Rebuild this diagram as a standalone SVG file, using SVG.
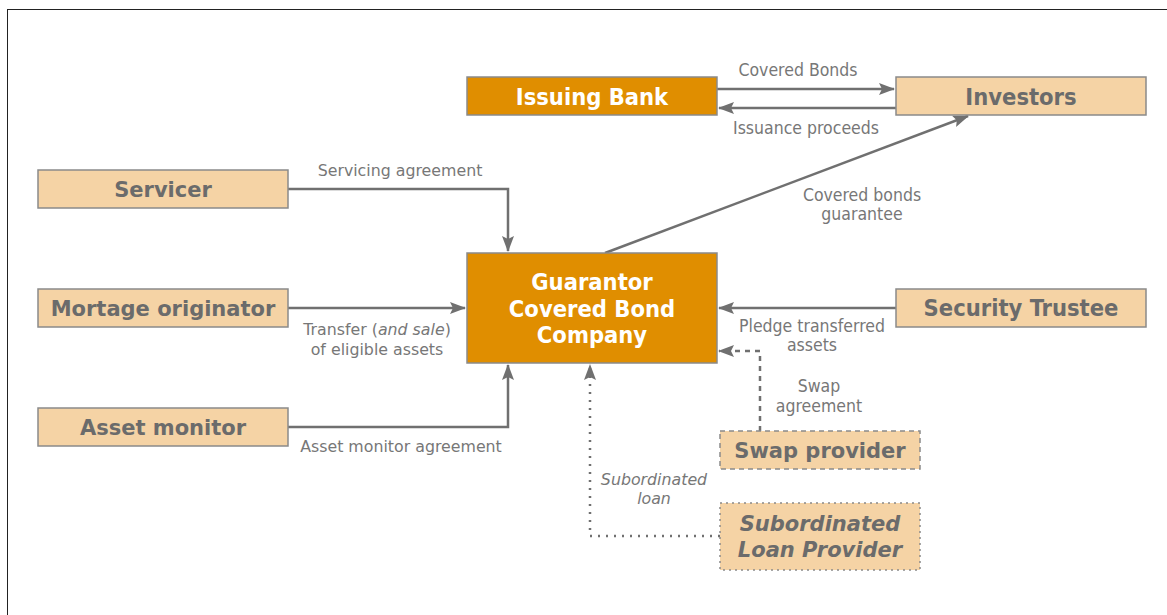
<svg xmlns="http://www.w3.org/2000/svg" width="1167" height="615" viewBox="0 0 1167 615">
<style>
.light{fill:#F5D3A5;stroke:#8a8a8a;stroke-width:1.5}
.dark{fill:#E08E00;stroke:#8a8a8a;stroke-width:1.5}
.t{font-family:"DejaVu Sans",Verdana,sans-serif;font-weight:bold;font-size:21px;fill:#6b6b6b;text-anchor:middle}
.tw{font-family:"DejaVu Sans Condensed","DejaVu Sans",sans-serif;font-weight:bold;font-size:23.5px;fill:#ffffff;text-anchor:middle}
.tc{font-family:"DejaVu Sans Condensed","DejaVu Sans",sans-serif;font-weight:bold;font-size:23.5px;fill:#6b6b6b;text-anchor:middle}
.l{font-family:"DejaVu Sans",Verdana,sans-serif;font-size:15.8px;fill:#777;text-anchor:middle}
.lc{font-family:"DejaVu Sans Condensed","DejaVu Sans",sans-serif;font-size:17.5px;fill:#777;text-anchor:middle}
.c{fill:none;stroke:#707070;stroke-width:2.5}
</style>
<defs>
<marker id="ah" viewBox="0 0 16 12" refX="15" refY="6" markerWidth="16" markerHeight="12" markerUnits="userSpaceOnUse" orient="auto">
<path d="M0,0 L16,6 L0,12 L3,6 Z" fill="#707070"/>
</marker>
</defs>
<rect x="7.5" y="9.5" width="1200" height="650" fill="#fff" stroke="#222" stroke-width="1"/>
<g id="connectors">
<path class="c" d="M717,89 H894" marker-end="url(#ah)"/>
<path class="c" d="M896,108 H719" marker-end="url(#ah)"/>
<path class="c" d="M605,253 L968,116" marker-end="url(#ah)"/>
<path class="c" d="M288,189 H508 V251" marker-end="url(#ah)"/>
<path class="c" d="M288,308 H465" marker-end="url(#ah)"/>
<path class="c" d="M288,427 H508 V365" marker-end="url(#ah)"/>
<path class="c" d="M896,308 H719" marker-end="url(#ah)"/>
<path class="c" d="M760,431 V351 H719" stroke-dasharray="5,5" marker-end="url(#ah)"/>
<path class="c" d="M720,536 H590 V365" stroke-dasharray="2,6" marker-end="url(#ah)"/>
<text class="lc" x="798" y="76">Covered Bonds</text>
<text class="lc" x="806" y="134">Issuance proceeds</text>
<text class="lc" x="862" y="201">Covered bonds</text>
<text class="lc" x="862" y="220">guarantee</text>
<text class="l" x="400" y="176">Servicing agreement</text>
<text class="l" x="377" y="335">Transfer (<tspan font-style="italic">and sale</tspan>)</text>
<text class="l" x="377" y="355">of eligible assets</text>
<text class="l" x="401" y="452">Asset monitor agreement</text>
<text class="lc" x="812" y="332">Pledge transferred</text>
<text class="lc" x="812" y="351">assets</text>
<text class="lc" x="819" y="392">Swap</text>
<text class="lc" x="819" y="412">agreement</text>
<text class="l" x="654" y="485" font-style="italic">Subordinated</text>
<text class="l" x="654" y="504" font-style="italic">loan</text>
</g>
<g id="issuing-bank"><rect class="dark" x="467" y="77" width="250" height="38"/><text class="tw" x="592" y="105">Issuing Bank</text></g>
<g id="investors"><rect class="light" x="896" y="77" width="250" height="38"/><text class="tc" x="1021" y="105">Investors</text></g>
<g id="servicer"><rect class="light" x="38" y="170" width="250" height="38"/><text class="t" x="163" y="197">Servicer</text></g>
<g id="mortage-originator"><rect class="light" x="38" y="289" width="250" height="38"/><text class="t" x="163" y="316">Mortage originator</text></g>
<g id="asset-monitor"><rect class="light" x="38" y="408" width="250" height="38"/><text class="t" x="163" y="435">Asset monitor</text></g>
<g id="guarantor"><rect class="dark" x="467" y="253" width="250" height="110"/>
<text class="tw" x="592" y="290" font-size="17.5">Guarantor</text>
<text class="tw" x="592" y="317">Covered Bond</text>
<text class="tw" x="592" y="343">Company</text></g>
<g id="security-trustee"><rect class="light" x="896" y="289" width="250" height="38"/><text class="tc" x="1021" y="316">Security Trustee</text></g>
<g id="swap-provider"><rect class="light" x="720" y="431" width="200" height="38" stroke-dasharray="5,4" stroke-width="2"/><text class="t" x="820" y="458">Swap provider</text></g>
<g id="subordinated-loan-provider"><rect class="light" x="720" y="503" width="200" height="67" stroke-dasharray="2,4" stroke-width="2"/>
<text class="t" x="820" y="531" font-style="italic">Subordinated</text>
<text class="t" x="820" y="557" font-style="italic">Loan Provider</text></g>
</svg>
